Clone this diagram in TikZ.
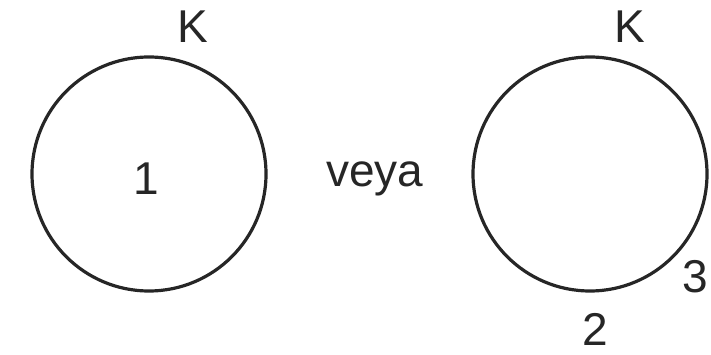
\documentclass[tikz,border=0pt]{standalone}
\usepackage{fontspec}
\setmainfont{Liberation Sans}
\begin{document}
\begin{tikzpicture}[x=1pt,y=-1pt,
  ring/.style={draw=black!85,line width=3.2pt,circle,inner sep=0pt,minimum size=234pt},
  lbl/.style={inner sep=0pt,anchor=base,text=black!85,font=\fontsize{46}{52}\selectfont}]
\useasboundingbox (0,0) rectangle (711,355);
\node[ring] (c1) at (149,174) {};
\node[ring] (c2) at (590,174) {};
\node[lbl] (k1) at (193,43) {K};
\node[lbl] (k2) at (630,43) {K};
\node[lbl] (n1) at (146,195) {1};
\node[lbl] (veya) at (375,187) {veya};
\node[lbl] (n3) at (695,292) {3};
\node[lbl] (n2) at (595,345) {2};
\end{tikzpicture}
\end{document}
